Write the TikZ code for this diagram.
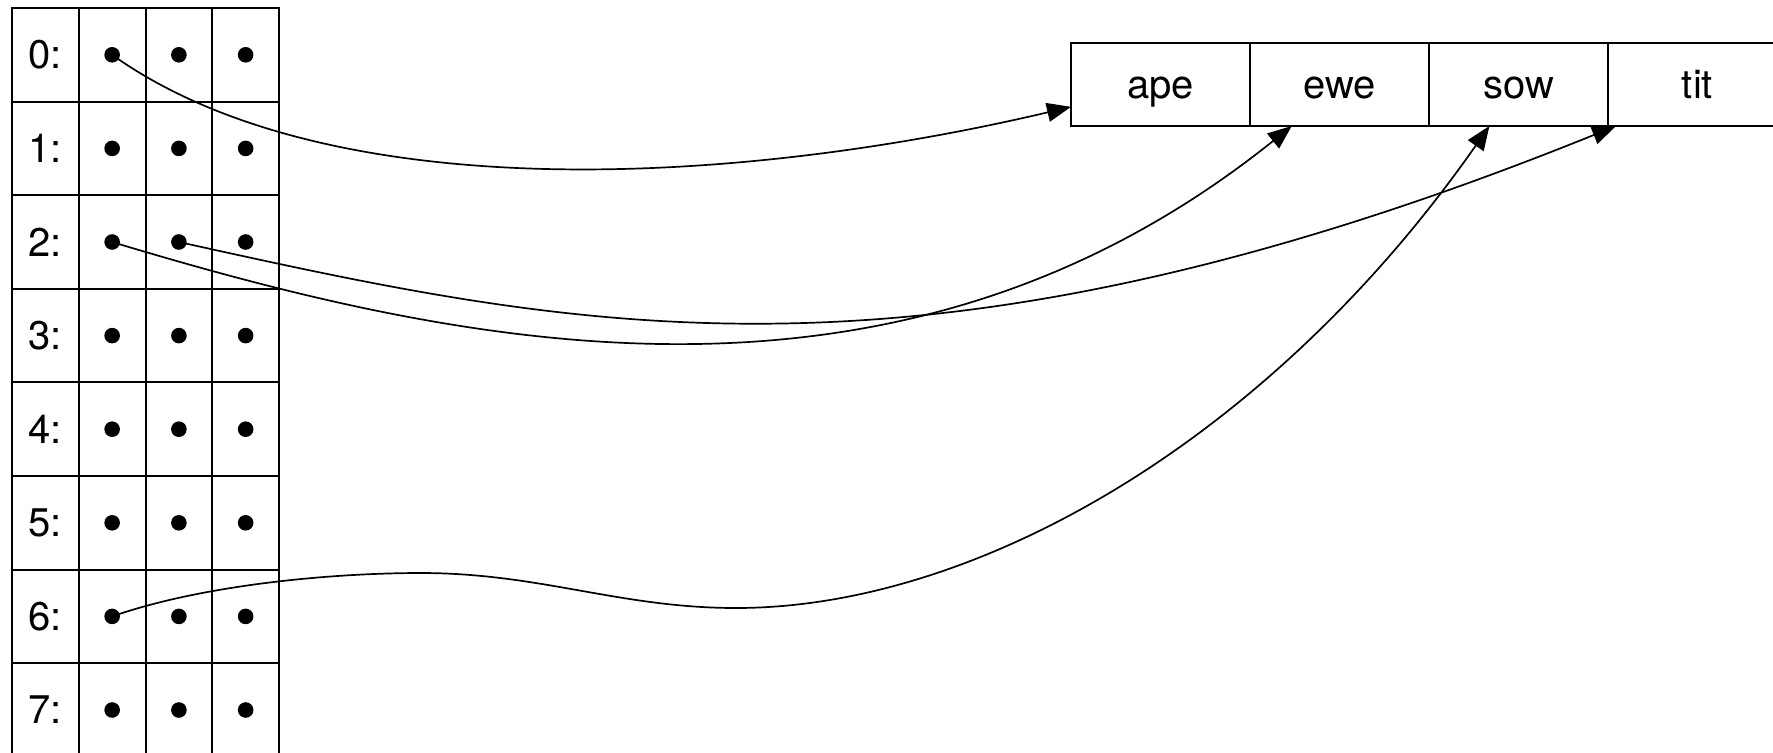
\documentclass[tikz,border=0pt]{standalone}
\usepackage{fontspec}
\setmainfont{TeX Gyre Heros}
\usetikzlibrary{arrows.meta}

\begin{document}
\begin{tikzpicture}[x=0.5pt,y=-0.5pt,
    font=\fontsize{20}{24}\selectfont,
    cellbox/.style={draw, line width=1pt, inner sep=0pt, outer sep=0pt,
      minimum width=33.375pt, minimum height=46.8pt},
    wordbox/.style={draw, line width=1pt, inner sep=0pt, outer sep=0pt,
      minimum width=89.5pt, minimum height=41.5pt,
      text height=14pt, text depth=0pt},
    dot/.style={circle, fill, inner sep=0pt, minimum size=7.8pt},
    pointer/.style={line width=0.85pt, -{Triangle[length=12pt,width=9.5pt]}}]
  \clip (0,0) rectangle (1773,752);
  \fill[white] (0,0) rectangle (1773,752);
  % bucket table
  \foreach \r in {0,...,7} {
    \node[cellbox] (idx\r) at (45.4,54.8+93.6*\r) {\r:};
    \foreach \c in {1,2,3} {
      \node[cellbox] (cell\r\c) at (45.4+66.75*\c,54.8+93.6*\r) {};
      \node[dot] (pt\r\c) at (cell\r\c.center) {};
    }
  }
  % word array
  \foreach \w [count=\k from 0] in {ape,ewe,sow,tit}
    \node[wordbox] (\w) at (1160.5+179*\k,84.5) {\w};
  % pointers
  \draw[pointer] (pt01.center) .. controls (330,210) and (740,185) .. (ape.194);
  \draw[pointer] (pt21.center) .. controls (470,350) and (900,440) .. (ewe.221);
  \draw[pointer] (pt22.center) .. controls (578,330) and (920,407) .. (tit.207);
  \coordinate (crestD) at (421,573);
  \coordinate (troughD) at (736,608);
  \draw[pointer] (pt61.center) .. controls (202,585) and (330,573) .. (crestD)
    .. controls (540,573) and (620,608) .. (troughD)
    .. controls (976,608) and (1269,441) .. (sow.235);
\end{tikzpicture}
\end{document}
